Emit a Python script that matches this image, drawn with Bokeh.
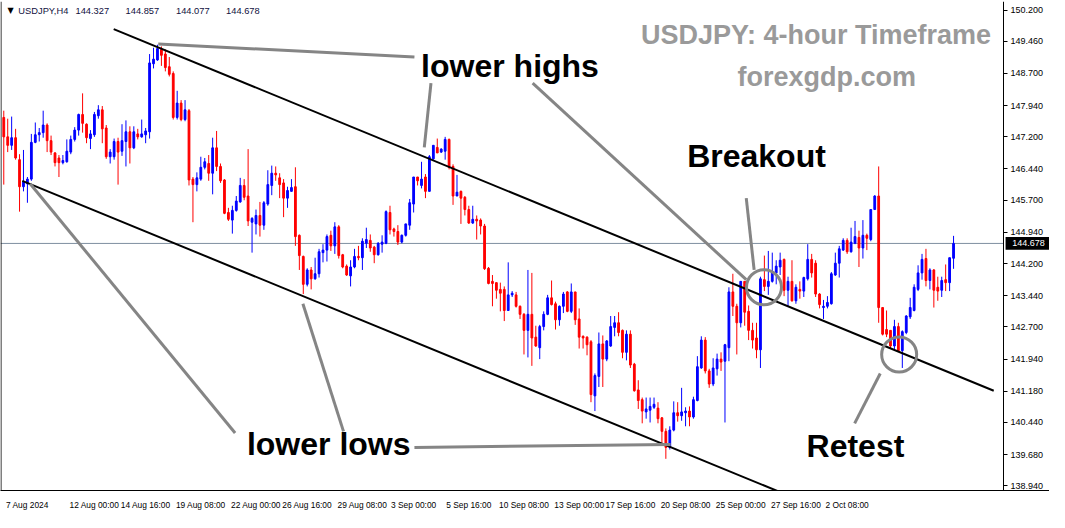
from bokeh.plotting import figure
from bokeh.models import Range1d, FixedTicker, PrintfTickFormatter, Label
from bokeh.core.properties import value
from bokeh.embed import file_html
from bokeh.resources import INLINE

# ---------------- data (USDJPY H4) ----------------
opens = [
    147.66, 147.20, 147.00, 147.18, 146.66, 146.02, 146.09, 146.20, 147.07, 147.25,
    147.30, 147.48, 147.11, 146.82, 146.70, 146.59, 146.61, 146.84, 147.14, 147.36,
    147.73, 147.50, 147.16, 147.25, 147.70, 147.84, 147.41, 146.73, 146.73, 147.09,
    146.86, 147.09, 147.32, 146.94, 147.27, 147.20, 147.25, 147.32, 148.93, 149.02,
    149.27, 149.16, 148.86, 148.70, 147.66, 148.00, 147.61, 147.82, 146.20, 146.07,
    146.20, 146.48, 146.57, 146.34, 146.94, 146.50, 146.18, 145.41, 145.23, 145.46,
    145.66, 146.05, 145.80, 145.18, 145.14, 145.34, 145.11, 145.61, 146.05, 146.34,
    146.23, 146.11, 145.75, 145.91, 146.02, 144.87, 144.37, 143.71, 144.05, 143.84,
    143.96, 144.46, 144.52, 144.87, 144.62, 145.07, 144.41, 144.14, 143.91, 144.12,
    144.37, 144.34, 144.68, 144.75, 144.59, 144.41, 144.66, 144.68, 145.41, 145.02,
    144.96, 144.71, 144.87, 145.11, 145.61, 146.25, 146.05, 146.25, 145.91, 146.68,
    146.95, 146.84, 146.86, 147.14, 146.50, 145.80, 145.91, 145.77, 145.48, 145.16,
    145.25, 145.23, 145.09, 144.09, 143.78, 143.75, 143.59, 143.59, 143.09, 143.46,
    143.46, 143.19, 143.00, 142.62, 143.00, 142.46, 142.21, 142.71, 143.00, 143.39,
    143.25, 142.87, 143.19, 143.53, 143.07, 143.53, 142.89, 142.48, 142.46, 142.35,
    141.07, 141.53, 142.30, 141.94, 142.25, 142.69, 142.80, 142.62, 142.10, 142.53,
    141.82, 141.21, 140.98, 140.69, 140.73, 140.80, 140.78, 140.55, 140.23, 139.85,
    140.26, 140.67, 140.60, 140.67, 140.71, 140.57, 140.96, 141.73, 142.39, 141.66,
    141.35, 141.71, 141.94, 141.89, 142.21, 143.53, 143.19, 142.80, 143.78, 143.07,
    142.62, 142.44, 142.16, 143.82, 143.66, 143.78, 143.98, 144.12, 144.30, 143.57,
    143.78, 143.32, 143.59, 143.55, 143.84, 144.30, 144.21, 143.48, 143.16, 143.19,
    143.25, 143.93, 144.21, 144.52, 144.75, 144.48, 144.68, 144.82, 144.57, 144.87,
    144.77, 145.48, 145.80, 143.16, 142.64, 142.62, 142.25, 142.71, 142.14, 142.57,
    142.94, 143.09, 143.59, 143.98, 144.32, 143.80, 144.05, 143.64, 143.57, 143.82,
    143.75, 144.327,
]
highs = [
    147.82, 147.63, 147.68, 147.39, 146.79, 146.89, 146.25, 147.27, 147.54, 147.41,
    147.82, 147.52, 147.23, 146.84, 146.77, 146.77, 147.14, 147.23, 147.43, 147.75,
    148.23, 147.52, 147.36, 147.79, 147.95, 147.93, 147.48, 146.91, 147.16, 147.18,
    147.50, 147.59, 147.45, 147.45, 147.39, 147.61, 147.41, 149.16, 149.31, 149.38,
    149.34, 149.27, 149.09, 148.75, 148.29, 148.07, 148.07, 147.86, 146.25, 146.36,
    146.73, 146.70, 146.77, 147.18, 147.34, 146.57, 146.20, 145.52, 145.57, 145.80,
    146.23, 146.20, 146.91, 145.30, 145.48, 145.66, 145.68, 146.41, 146.52, 146.50,
    146.34, 146.20, 146.02, 146.20, 146.48, 144.89, 144.39, 144.09, 144.12, 144.34,
    144.55, 144.66, 144.89, 144.98, 145.18, 145.11, 144.43, 144.18, 144.28, 144.55,
    144.62, 144.80, 145.05, 144.89, 144.62, 144.71, 144.87, 145.46, 145.57, 145.05,
    145.11, 144.89, 145.14, 145.73, 146.25, 146.25, 146.61, 146.32, 146.77, 147.00,
    147.16, 146.93, 147.20, 147.16, 146.55, 146.30, 145.93, 145.80, 145.57, 145.57,
    145.34, 145.27, 145.14, 144.12, 143.93, 143.75, 143.75, 143.66, 144.23, 143.55,
    143.53, 143.21, 143.03, 144.05, 143.98, 142.73, 142.75, 143.07, 143.46, 143.80,
    143.30, 143.21, 143.53, 143.55, 143.73, 143.53, 143.14, 142.50, 142.48, 142.39,
    141.60, 142.57, 142.50, 142.39, 142.96, 142.96, 143.05, 142.64, 142.62, 142.62,
    141.85, 141.44, 141.03, 141.03, 141.03, 141.03, 140.92, 140.57, 140.30, 140.35,
    140.94, 140.92, 141.26, 140.80, 140.82, 141.05, 142.01, 142.48, 142.46, 141.71,
    141.96, 142.07, 142.10, 142.30, 143.64, 143.96, 143.25, 143.78, 143.78, 143.21,
    142.80, 142.80, 143.89, 144.39, 144.50, 144.46, 144.28, 144.46, 144.32, 143.89,
    144.28, 143.71, 143.78, 143.89, 144.66, 144.43, 144.28, 143.50, 143.34, 143.43,
    144.00, 144.46, 144.62, 144.80, 144.80, 145.05, 145.21, 144.98, 145.23, 144.91,
    145.48, 145.82, 146.50, 143.16, 143.09, 142.62, 142.87, 142.80, 142.62, 142.98,
    143.39, 143.71, 144.16, 144.43, 144.55, 144.09, 144.07, 143.89, 143.89, 144.18,
    144.34, 144.857,
]
lows = [
    146.07, 146.84, 146.89, 146.66, 145.43, 145.91, 145.64, 146.16, 147.05, 147.09,
    147.18, 146.84, 146.77, 146.50, 146.25, 146.55, 146.59, 146.79, 147.09, 147.23,
    147.30, 147.05, 146.91, 147.20, 147.63, 147.05, 146.68, 146.57, 146.66, 146.07,
    146.75, 146.50, 146.57, 146.91, 147.14, 147.18, 147.05, 147.16, 148.82, 149.00,
    148.88, 148.75, 148.63, 147.61, 147.61, 147.57, 147.57, 146.05, 145.18, 145.91,
    146.16, 146.43, 146.16, 145.84, 146.39, 146.11, 145.37, 145.21, 144.91, 145.43,
    145.64, 145.70, 145.09, 144.46, 144.89, 144.84, 145.00, 145.57, 145.82, 146.16,
    145.75, 145.30, 145.52, 145.91, 144.62, 144.05, 143.48, 143.66, 143.59, 143.82,
    143.87, 144.23, 144.25, 144.50, 144.43, 144.32, 144.09, 143.91, 143.66, 144.09,
    144.28, 144.05, 144.57, 144.48, 144.21, 144.39, 144.46, 144.66, 144.89, 144.84,
    144.64, 144.68, 144.84, 145.00, 145.41, 146.05, 145.98, 145.75, 145.91, 146.66,
    146.82, 146.82, 146.66, 146.43, 145.59, 145.80, 145.14, 145.34, 145.14, 145.14,
    144.77, 144.89, 144.05, 143.71, 143.19, 143.37, 143.07, 142.84, 143.09, 143.41,
    143.16, 142.89, 142.05, 141.98, 141.78, 142.23, 141.94, 142.62, 142.98, 143.21,
    142.64, 142.73, 143.03, 143.05, 143.03, 142.75, 142.19, 142.19, 142.03, 140.92,
    140.71, 141.28, 141.28, 141.89, 142.23, 142.48, 142.48, 141.96, 141.91, 141.73,
    141.17, 140.76, 140.42, 140.53, 140.44, 140.76, 140.42, 139.96, 139.58, 139.80,
    140.23, 140.46, 140.48, 140.35, 140.35, 140.53, 140.94, 141.71, 141.60, 141.26,
    141.30, 141.55, 141.66, 140.44, 141.89, 142.96, 142.05, 142.69, 142.73, 142.39,
    142.19, 141.96, 141.73, 143.55, 143.46, 143.75, 143.71, 143.93, 143.43, 143.19,
    143.30, 143.25, 143.37, 143.41, 143.80, 143.87, 143.41, 143.14, 142.89, 143.14,
    143.23, 143.91, 143.87, 144.50, 144.43, 144.46, 144.66, 144.12, 144.32, 144.52,
    144.73, 145.48, 142.80, 142.50, 142.46, 142.19, 142.16, 142.12, 141.73, 142.53,
    142.89, 143.07, 143.55, 143.82, 143.66, 143.59, 143.16, 143.32, 143.41, 143.55,
    143.55, 144.077,
]
closes = [
    147.20, 147.00, 147.18, 146.70, 146.02, 146.14, 146.20, 147.07, 147.25, 147.30,
    147.48, 147.11, 146.84, 146.59, 146.59, 146.64, 146.86, 147.14, 147.36, 147.73,
    147.52, 147.18, 147.27, 147.73, 147.84, 147.39, 146.73, 146.84, 147.09, 146.84,
    147.11, 147.32, 146.94, 147.32, 147.20, 147.27, 147.34, 148.95, 149.04, 149.29,
    149.13, 148.84, 148.68, 147.66, 148.00, 147.61, 147.84, 146.18, 146.07, 146.23,
    146.48, 146.61, 146.34, 146.94, 146.50, 146.16, 145.39, 145.25, 145.46, 145.68,
    146.05, 145.77, 145.21, 145.27, 145.34, 145.11, 145.64, 146.07, 146.34, 146.30,
    146.07, 145.75, 145.93, 146.00, 144.84, 144.39, 143.71, 144.05, 143.84, 143.96,
    144.48, 144.52, 144.84, 144.62, 145.07, 144.39, 144.12, 143.93, 144.12, 144.37,
    144.34, 144.73, 144.77, 144.57, 144.41, 144.68, 144.71, 145.43, 145.00, 144.96,
    144.71, 144.87, 145.14, 145.64, 146.25, 146.16, 146.20, 145.91, 146.73, 147.00,
    146.82, 146.91, 147.14, 146.48, 145.80, 145.89, 145.75, 145.48, 145.16, 145.25,
    145.21, 145.09, 144.08, 143.73, 143.73, 143.57, 143.50, 143.09, 143.46, 143.50,
    143.19, 143.00, 142.62, 143.00, 142.44, 142.25, 142.71, 143.00, 143.39, 143.23,
    142.87, 143.19, 143.48, 143.07, 143.53, 142.87, 142.46, 142.44, 142.28, 141.10,
    141.55, 142.30, 141.94, 142.37, 142.71, 142.80, 142.57, 142.10, 142.53, 141.80,
    141.19, 140.96, 140.71, 140.76, 140.82, 140.87, 140.53, 140.23, 139.85, 140.26,
    140.67, 140.60, 140.69, 140.71, 140.57, 140.98, 141.76, 142.39, 141.66, 141.35,
    141.73, 141.94, 141.87, 142.28, 143.53, 143.19, 142.80, 143.78, 143.05, 142.62,
    142.39, 142.16, 143.84, 143.66, 143.78, 144.00, 144.14, 144.28, 143.57, 143.78,
    143.32, 143.64, 143.55, 143.87, 144.30, 143.98, 143.48, 143.23, 143.19, 143.28,
    143.96, 144.21, 144.55, 144.75, 144.48, 144.71, 144.84, 144.57, 144.87, 144.80,
    145.48, 145.80, 143.16, 142.53, 142.53, 142.25, 142.71, 142.14, 142.59, 142.96,
    143.16, 143.64, 143.98, 144.30, 143.80, 144.05, 143.57, 143.55, 143.80, 143.75,
    144.34, 144.678,
]

price_ticks = [150.200, 149.460, 148.700, 147.940, 147.200, 146.440, 145.700, 144.940,
               144.200, 143.440, 142.700, 141.940, 141.180, 140.440, 139.680, 138.940]
time_tick_bars = [6, 23, 36, 50, 64, 77, 91, 104, 118, 132, 146, 159, 173, 187, 201, 214]
time_tick_labels = ["7 Aug 2024", "12 Aug 00:00", "14 Aug 16:00", "19 Aug 08:00",
                    "22 Aug 00:00", "26 Aug 16:00", "29 Aug 08:00", "3 Sep 00:00",
                    "5 Sep 16:00", "10 Sep 08:00", "13 Sep 00:00", "17 Sep 16:00",
                    "20 Sep 08:00", "25 Sep 00:00", "27 Sep 16:00", "2 Oct 08:00"]

symbol_text = "USDJPY,H4"
header_values = ["144.327", "144.857", "144.077", "144.678"]
last_price = 144.678

# channel trend lines (bar index, price)
channel_x0 = [27.9, 4.7]
channel_y0 = [149.75, 146.16]
channel_x1 = [251.2, 224.2]
channel_y1 = [141.19, 137.75]

# grey pointer lines
pointer_x0 = [39.2, 108.4, 134.2, 188.4, 222.4, 6.7, 75.9, 104.2]
pointer_y0 = [149.40, 148.47, 148.47, 145.75, 141.60, 146.09, 143.25, 139.85]
pointer_x1 = [104.2, 106.7, 188.4, 190.4, 215.9, 58.7, 86.2, 169.2]
pointer_y1 = [149.09, 146.95, 143.82, 144.05, 140.42, 140.19, 140.23, 139.92]

# circles
circle_x = [192.9, 227.2]
circle_y = [143.64, 142.05]

# annotation texts
note_texts = ["lower highs", "Breakout", "lower lows", "Retest"]
note_x = [105.9, 173.4, 61.7, 203.7]
note_y = [148.88, 146.75, 139.94, 139.89]

title_texts = ["USDJPY: 4-hour Timeframe", "forexgdp.com"]
title_x = [161.7, 186.2]
title_y = [149.60, 148.62]

# ---------------- figure ----------------
BULL = "#0000ff"
BEAR = "#ff0000"
n = len(opens)
bars = list(range(n))
colors = [BULL if c >= o else BEAR for o, c in zip(opens, closes)]
tops = [max(o, c) for o, c in zip(opens, closes)]
bottoms = [min(o, c) for o, c in zip(opens, closes)]

W, H = 1049, 512
X0 = -0.83          # left edge of the chart area (bar units)
XAXIS = 253.7       # position of the price scale (bar units)
PX_PER_BAR = 3.941
X1 = X0 + W / PX_PER_BAR   # frame spans the whole width, price scale drawn inside
Y0, Y1 = 138.83, 150.404

p = figure(width=W, height=H, output_backend="svg", toolbar_location=None,
           x_range=Range1d(X0, X1), y_range=Range1d(Y0, Y1),
           y_axis_location="right",
           min_border_left=0, min_border_top=1, min_border_right=0, min_border_bottom=17,
           background_fill_color="white", border_fill_color="white",
           outline_line_color=None)
p.xgrid.visible = False
p.ygrid.visible = False

# price axis (placed at the right edge of the chart area)
small_font = "Liberation Sans"
p.yaxis.fixed_location = XAXIS
p.yaxis.ticker = FixedTicker(ticks=price_ticks)
p.yaxis.formatter = PrintfTickFormatter(format="%.3f")
p.yaxis.major_tick_out = 4
p.yaxis.major_tick_in = 0
p.yaxis.minor_tick_line_color = None
p.yaxis.major_label_standoff = 3
p.yaxis.major_label_text_font = small_font
p.yaxis.major_label_text_font_size = "9px"
p.yaxis.major_label_text_color = "black"
p.yaxis.axis_line_color = "black"

# time axis
p.xaxis.ticker = FixedTicker(ticks=time_tick_bars)
p.xaxis.major_label_overrides = {b: l for b, l in zip(time_tick_bars, time_tick_labels)}
p.xaxis.major_tick_line_color = None
p.xaxis.minor_tick_line_color = None
p.xaxis.major_label_standoff = 3
p.xaxis.major_label_text_font = small_font
p.xaxis.major_label_text_font_size = "8.4px"
p.xaxis.major_label_text_color = "black"
p.xaxis.axis_line_color = "black"

# left border of the chart area
p.segment(x0=[X0 + 0.13], y0=[Y0], x1=[X0 + 0.13], y1=[Y1], line_color="black", line_width=1)

# last price line (under the candles) and price box on the scale
p.segment(x0=[X0], y0=[last_price], x1=[XAXIS], y1=[last_price],
          line_color="#7f8fa0", line_width=1, level="underlay")
box_half = 0.15
p.quad(left=[XAXIS + 0.5], right=[X1], top=[last_price + box_half],
       bottom=[last_price - box_half], fill_color="black", line_color=None)
p.text(x=[XAXIS + 2.2], y=[last_price], text=[f"{last_price:.3f}"],
       text_font=value(small_font), text_font_size="9px", text_color="white",
       text_align="left", text_baseline="middle")

# candles
p.segment(x0=bars, y0=lows, x1=bars, y1=highs, line_color=colors, line_width=1)
p.vbar(x=bars, width=0.45, top=tops, bottom=bottoms, fill_color=colors,
       line_color=colors, line_width=1)

# channel
p.segment(x0=channel_x0, y0=channel_y0, x1=channel_x1, y1=channel_y1,
          line_color="black", line_width=2)

# pointers and circles
GREY = "#858585"
p.segment(x0=pointer_x0, y0=pointer_y0, x1=pointer_x1, y1=pointer_y1,
          line_color=GREY, line_width=3)
p.scatter(x=circle_x, y=circle_y, marker="circle", size=35, fill_color=None,
          line_color=GREY, line_width=3)

# texts
p.text(x=note_x, y=note_y, text=note_texts, text_font=value("Liberation Sans"),
       text_font_style="bold", text_font_size="32px", text_color="black",
       text_align="left", text_baseline="middle")
p.text(x=title_x, y=title_y, text=title_texts, text_font=value("Liberation Sans"),
       text_font_style="bold", text_font_size="27px", text_color="#9a9a9a",
       text_align="left", text_baseline="middle")

# header
header_y = 150.18
p.add_layout(Label(x=1.7, y=header_y, text="\u25bc", text_font="DejaVu Sans",
                   text_font_size="8px", text_color="black", text_align="center",
                   text_baseline="middle"))
p.add_layout(Label(x=3.7, y=header_y, text=symbol_text, text_font=small_font,
                   text_font_size="9.3px", text_color="#101040", text_align="left",
                   text_baseline="middle"))
for hx, hv in zip([18.2, 30.9, 43.7, 56.4], header_values):
    p.add_layout(Label(x=hx, y=header_y, text=hv, text_font=small_font,
                       text_font_size="9.3px", text_color="#101040", text_align="left",
                       text_baseline="middle"))

open("out.html", "w").write(file_html(p, INLINE))
